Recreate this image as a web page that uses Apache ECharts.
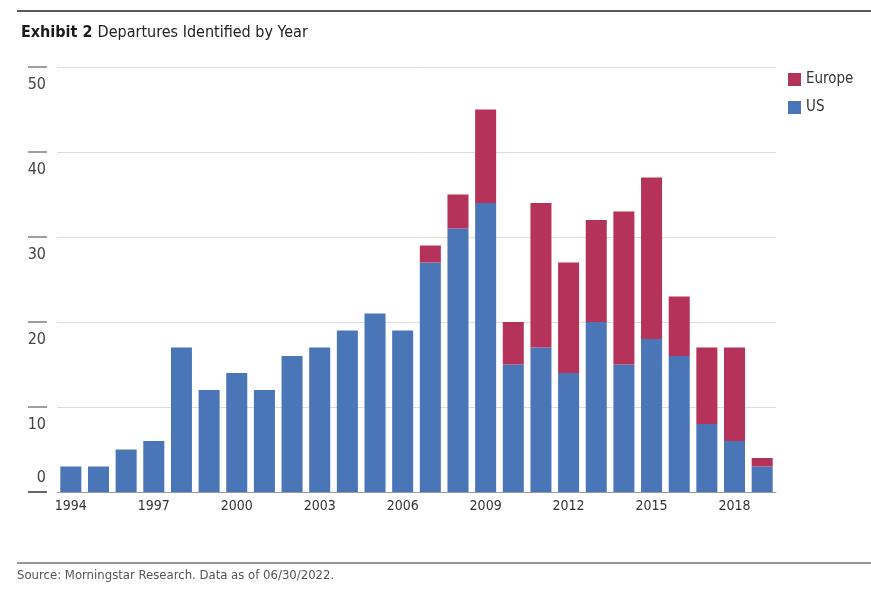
<!DOCTYPE html>
<html>
<head>
<meta charset="utf-8">
<script src="https://cdn.jsdelivr.net/npm/echarts@6/dist/echarts.min.js"></script>
<style>
html,body{margin:0;padding:0;background:#fff;}
#chart{width:871px;height:592px;}
</style>
</head>
<body>
<div id="chart"></div>
<script>
const years = ['1994','1995','1996','1997','1998','1999','2000','2001','2002','2003','2004','2005','2006','2007','2008','2009','2010','2011','2012','2013','2014','2015','2016','2017','2018','2019'];
const usValues     = [3,3,5,6,17,12,14,12,16,17,19,21,19,27,31,34,15,17,14,20,15,18,16,8,6,3];
const europeValues = [0,0,0,0,0,0,0,0,0,0,0,0,0,2,4,11,5,17,13,12,18,19,7,9,11,1];
const yTicksUpper = [10,20,30,40,50];
const yTicksZero = [0];
const titleBold = 'Exhibit 2';
const titleText = 'Departures Identified by Year';
const sourceText = 'Source: Morningstar Research. Data as of 06/30/2022.';

const FONT = '"DejaVu Sans Condensed","Liberation Sans Narrow",sans-serif';
const chart = echarts.init(document.getElementById('chart'), null, {renderer:'canvas'});
chart.setOption({
  animation:false,
  backgroundColor:'#fff',
  textStyle:{fontFamily:FONT},
  title:{
    left:16, top:19,
    text:'{b|'+titleBold+'} {n|'+titleText+'}',
    textStyle:{
      fontWeight:'normal',
      rich:{
        b:{fontFamily:FONT,fontWeight:'bold',fontSize:16,color:'#1a1a1a'},
        n:{fontFamily:FONT,fontWeight:'normal',fontSize:16,color:'#222'}
      }
    }
  },
  legend:{
    data:['Europe','US'],
    orient:'vertical',
    left:783, top:67,
    itemWidth:13, itemHeight:13, itemGap:13,
    icon:'rect',
    textStyle:{fontFamily:FONT,fontSize:15,color:'#333',padding:[0,0,0,0]}
  },
  graphic:[
    {type:'line',shape:{x1:17,y1:11,x2:871,y2:11},style:{stroke:'#222',lineWidth:1.3},silent:true},
    {type:'line',shape:{x1:17,y1:563,x2:871,y2:563},style:{stroke:'#333',lineWidth:1},silent:true},
    {type:'text',left:17,top:569,style:{text:sourceText,font:'13px '+FONT,fill:'#555'},silent:true}
  ],
  grid:{left:57,right:95,top:67,bottom:100,containLabel:false},
  xAxis:{
    type:'category',
    data:years,
    boundaryGap:true,
    axisLine:{show:true,lineStyle:{color:'#9a9a9a',width:1}},
    axisTick:{show:false},
    axisLabel:{interval:2,margin:7,fontFamily:FONT,fontSize:14,color:'#333'},
    splitLine:{show:false}
  },
  yAxis:[
    {
      type:'value',min:0,max:50,interval:10,
      position:'left',offset:10,
      axisLine:{show:false},
      axisTick:{show:true,length:19,customValues:yTicksUpper,lineStyle:{color:'#a0a0a0',width:2}},
      axisLabel:{customValues:yTicksUpper,margin:1,verticalAlign:'top',padding:[10,0,0,0],fontFamily:FONT,fontSize:16,color:'#444'},
      splitLine:{show:true,lineStyle:{color:'#dedede',width:1}}
    },
    {
      type:'value',min:0,max:50,interval:10,
      position:'left',offset:10,
      axisLine:{show:false},
      axisTick:{show:true,length:19,customValues:yTicksZero,lineStyle:{color:'#666',width:2}},
      axisLabel:{customValues:yTicksZero,margin:1,verticalAlign:'bottom',padding:[0,0,6,0],fontFamily:FONT,fontSize:16,color:'#444'},
      splitLine:{show:false}
    }
  ],
  series:[
    {name:'US',type:'bar',stack:'total',data:usValues,barWidth:'76%',itemStyle:{color:'#4a75b6'}},
    {name:'Europe',type:'bar',stack:'total',data:europeValues,barWidth:'76%',itemStyle:{color:'#b5325a'}}
  ]
});
</script>
</body>
</html>
